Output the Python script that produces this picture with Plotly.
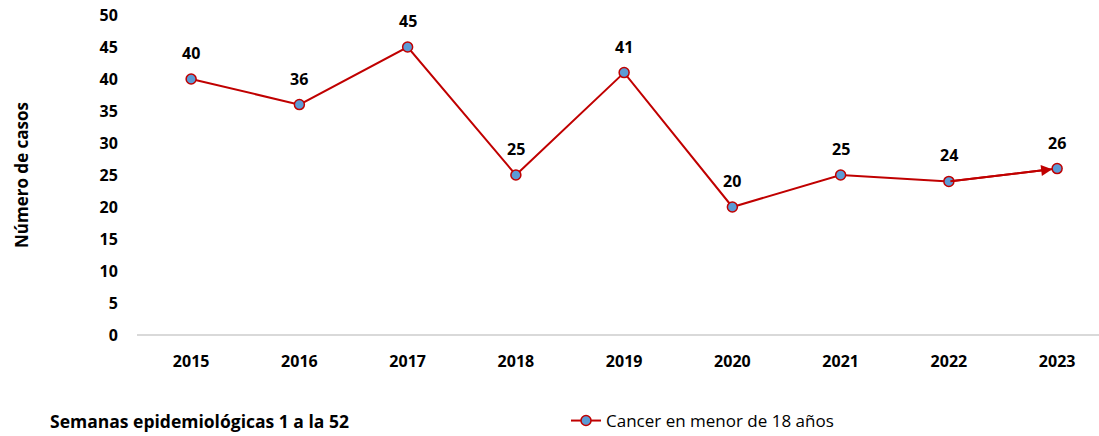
import plotly.graph_objects as go

years = ["2015", "2016", "2017", "2018", "2019", "2020", "2021", "2022", "2023"]
cases = [40, 36, 45, 25, 41, 20, 25, 24, 26]
series_name = "Cancer en menor de 18 años"
y_title = "Número de casos"
footer = "Semanas epidemiológicas 1 a la 52"
y_ticks = [0, 5, 10, 15, 20, 25, 30, 35, 40, 45, 50]

RED = "#C00000"
BLUE = "#5B9BD5"
FONT = "Open Sans"

W, H = 1099, 436
ML, MR, MT, MB = 137, 0, 15, 101
PW, PH = W - ML - MR, H - MT - MB

fig = go.Figure()
fig.add_trace(go.Scatter(
    x=list(range(len(years))), y=cases, mode="lines+markers", name=series_name,
    line=dict(color=RED, width=2),
    marker=dict(size=10, color=BLUE, line=dict(color=RED, width=1.5)),
))

ann = []
for i, v in enumerate(cases):
    ann.append(dict(x=i, y=v, xref="x", yref="y", text=f"<b>{v}</b>", showarrow=False,
                    yshift=26, font=dict(family=FONT, size=16, color="#000")))
n = len(cases)
ann.append(dict(x=n - 1, y=cases[-1], ax=n - 2, ay=cases[-2], xref="x", yref="y",
                axref="x", ayref="y", text="", showarrow=True, arrowhead=2,
                arrowsize=1.1, arrowwidth=2, arrowcolor=RED, standoff=5))
ann.append(dict(x=(48 - ML) / PW, y=-(421 - 335) / PH, xref="paper",
                yref="paper", xanchor="left", yanchor="middle", showarrow=False,
                text=f"<b>{footer}</b>", font=dict(family=FONT, size=17.5, color="#000")))

fig.update_layout(
    width=W, height=H,
    margin=dict(l=ML, r=MR, t=MT, b=MB, autoexpand=False),
    paper_bgcolor="white", plot_bgcolor="white",
    showlegend=True,
    legend=dict(orientation="h", x=(566 - ML) / PW,
                y=-(421 - 335) / PH, xanchor="left", yanchor="middle",
                font=dict(family=FONT, size=17, color="#000"),
                itemwidth=30),
    annotations=ann,
    font=dict(family=FONT),
)
fig.update_xaxes(
    range=[-0.5, PW / 108.25 - 0.5], tickvals=list(range(len(years))),
    ticktext=[f"<b>{y}</b>" for y in years], showgrid=False, zeroline=False,
    showline=False, ticks="outside", ticklen=12, tickcolor="rgba(0,0,0,0)",
    tickfont=dict(family=FONT, size=16, color="#000"),
)
fig.update_yaxes(
    range=[0, 50], tickvals=y_ticks, ticktext=[f"<b>{t}</b>" for t in y_ticks],
    showgrid=False, zeroline=True, zerolinecolor="#D9D9D9", zerolinewidth=2,
    showline=False, ticks="outside", ticklen=15, tickcolor="rgba(0,0,0,0)",
    ticklabeloverflow="allow",
    tickfont=dict(family=FONT, size=16, color="#000"),
    title=dict(text=f"<b>{y_title}</b>", font=dict(family=FONT, size=17, color="#000"),
               standoff=66),
)
fig.write_html("out.html", config={"displayModeBar": False},
               post_script="document.body.style.margin='0';document.body.style.overflow='hidden';")
